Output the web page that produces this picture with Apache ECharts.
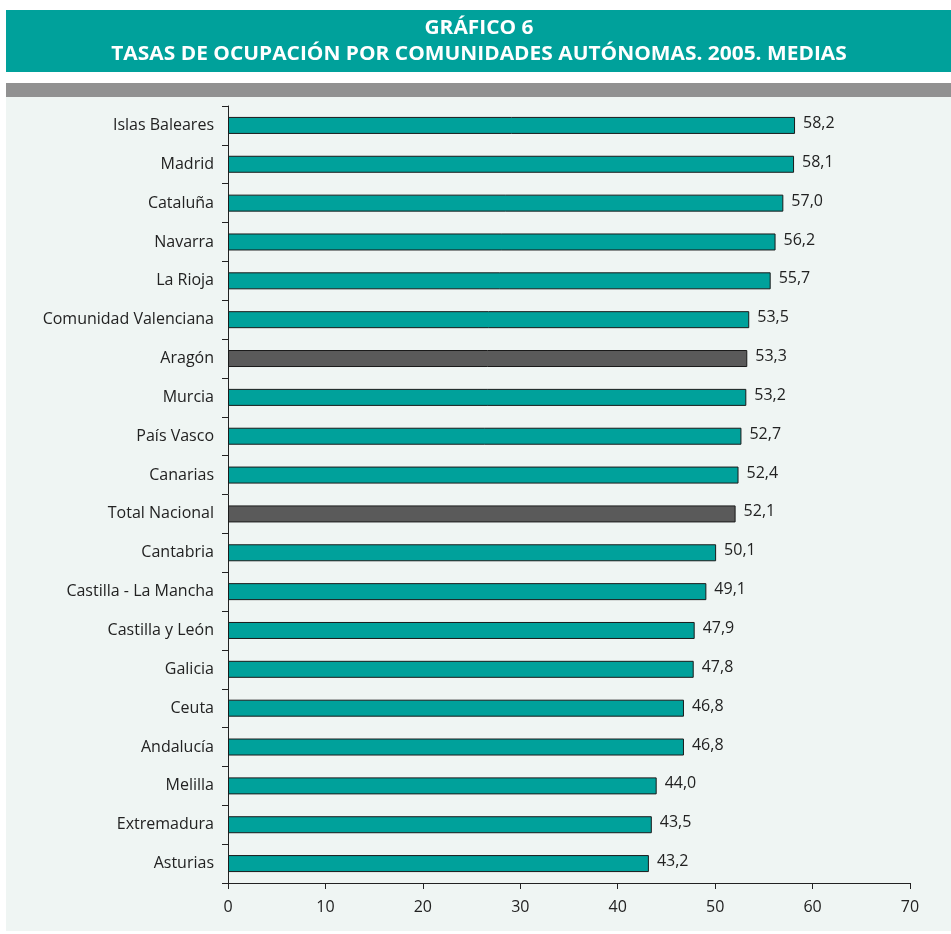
<!DOCTYPE html>
<html><head><meta charset="utf-8">
<script src="https://cdn.jsdelivr.net/npm/echarts@6/dist/echarts.min.js"></script>
<style>html,body{margin:0;padding:0;background:#fff}#c{width:951px;height:934px}</style>
</head><body><div id="c"></div>
<script>
const categories = ["Islas Baleares","Madrid","Cataluña","Navarra","La Rioja","Comunidad Valenciana","Aragón","Murcia","País Vasco","Canarias","Total Nacional","Cantabria","Castilla - La Mancha","Castilla y León","Galicia","Ceuta","Andalucía","Melilla","Extremadura","Asturias"];
const values = [58.2,58.1,57.0,56.2,55.7,53.5,53.3,53.2,52.7,52.4,52.1,50.1,49.1,47.9,47.8,46.8,46.8,44.0,43.5,43.2];
const highlighted = ["Aragón","Total Nacional"];
const xTicks = [0,10,20,30,40,50,60,70];

const TEAL = '#00a19b', DARK = '#5a5a5a';
const chart = echarts.init(document.getElementById('c'), null, {renderer:'canvas'});
const font = '"Open Sans", sans-serif';
chart.setOption({
  animation:false,
  backgroundColor:'#ffffff',
  graphic:[
    {type:'rect', z:-10, shape:{x:6,y:10,width:945,height:62}, style:{fill:TEAL}},
    {type:'rect', z:-10, shape:{x:6,y:83,width:945,height:14}, style:{fill:'#919191'}},
    {type:'rect', z:-10, shape:{x:6,y:97,width:945,height:834}, style:{fill:'#eff5f3'}},
    {type:'text', x:479, y:29, scaleX:1.1, style:{text:'GRÁFICO 6', fill:'#fff', font:'bold 19px '+font, textAlign:'center', textVerticalAlign:'middle'}},
    {type:'text', x:479, y:55, scaleX:1.1, style:{text:'TASAS DE OCUPACIÓN POR COMUNIDADES AUTÓNOMAS. 2005. MEDIAS', fill:'#fff', font:'bold 19px '+font, textAlign:'center', textVerticalAlign:'middle'}}
  ],
  grid:{left:228, right:41, top:106, bottom:51, containLabel:false},
  xAxis:{type:'value', min:0, max:70, interval:10,
    axisLine:{show:true, lineStyle:{color:'#222', width:1}},
    axisTick:{show:true, length:6, lineStyle:{color:'#222'}},
    splitLine:{show:false},
    axisLabel:{color:'#222', fontSize:16, fontFamily:font, margin:16,
      formatter:v=>xTicks.includes(v)?String(v):''}
  },
  yAxis:{type:'category', data:categories, inverse:true,
    axisLine:{show:true, lineStyle:{color:'#222', width:1}},
    axisTick:{show:true, length:6, lineStyle:{color:'#222'}},
    axisLabel:{color:'#222', fontSize:16, fontFamily:font, margin:14, padding:[4,0,0,0]}
  },
  series:[{type:'bar', barWidth:17,
    data:values.map((v,i)=>({value:v, itemStyle:{color: highlighted.includes(categories[i])?DARK:TEAL}})),
    itemStyle:{borderColor:'#1a1a1a', borderWidth:1},
    label:{show:true, position:'right', distance:8, color:'#222', fontSize:16, fontFamily:font, offset:[0,-2],
      formatter:p=>p.value.toFixed(1).replace('.',',')}
  }]
});
</script></body></html>
